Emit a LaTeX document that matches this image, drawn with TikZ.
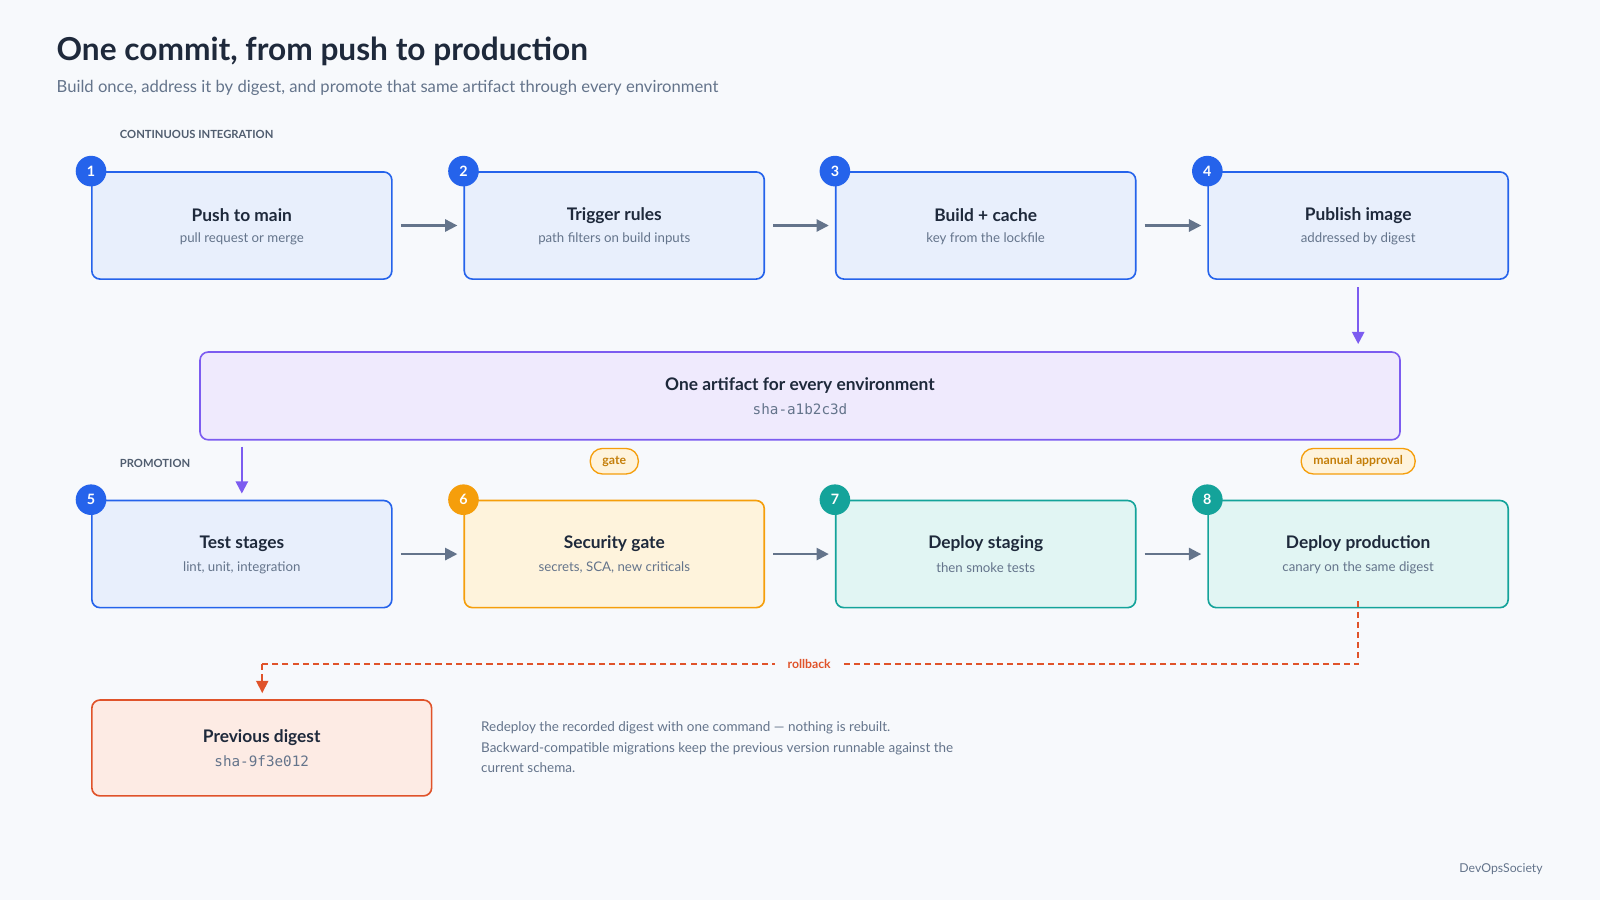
\documentclass[tikz,border=0pt]{standalone}
\usepackage{fontspec}
\setmainfont{Lato}
\newfontfamily\monof{DejaVu Sans Mono}
\usetikzlibrary{arrows.meta}
\definecolor{bg}{HTML}{F7F9FC}
\definecolor{ink}{HTML}{1E293B}
\definecolor{sub}{HTML}{64748B}
\definecolor{bluS}{HTML}{2563EB}\definecolor{bluF}{HTML}{E8EFFC}
\definecolor{purS}{HTML}{7C5CF0}\definecolor{purF}{HTML}{EFEAFD}
\definecolor{oraS}{HTML}{F59E0B}\definecolor{oraF}{HTML}{FEF3DC}
\definecolor{teaS}{HTML}{14A39A}\definecolor{teaF}{HTML}{E1F5F3}
\definecolor{redS}{HTML}{E0532A}\definecolor{redF}{HTML}{FDEBE4}
\definecolor{arr}{HTML}{64748B}
\tikzset{
 box/.style={draw=#1S,fill=#1F,line width=1.6pt,rounded corners=8pt,minimum width=294pt,minimum height=105pt},
 num/.style={circle,fill=#1S,text=white,minimum size=30pt,inner sep=0pt,font=\fontsize{14}{16}\selectfont\bfseries},
 ttl/.style={text=ink,font=\fontsize{17}{20}\selectfont\bfseries},
 sbt/.style={text=sub,font=\fontsize{13}{15}\selectfont},
 mono/.style={text=sub,font=\fontsize{14}{16}\selectfont\monof},
 flow/.style={draw=arr,line width=2pt,-{Triangle[length=12pt,width=12pt]}},
 pflow/.style={draw=purS,line width=2pt,-{Triangle[length=12pt,width=12pt]}},
 pill/.style={draw=oraS,fill=oraF,text=oraS!80!black,line width=1.3pt,rounded corners=12pt,minimum height=25pt,inner xsep=12pt,font=\fontsize{12}{14}\selectfont\bfseries},
 sect/.style={text=sub!80!black,anchor=west,font=\fontsize{11}{13}\selectfont\bfseries},
}
\begin{document}
\begin{tikzpicture}[x=1pt,y=-1pt]
\fill[bg] (0,0) rectangle (1568,882);
\useasboundingbox (0,0) rectangle (1568,882);
\node[anchor=west,text=ink,font=\fontsize{31}{36}\selectfont\bfseries] (title) at (52,50) {One commit, from push to production};
\node[anchor=west,text=sub,font=\fontsize{16.3}{19}\selectfont] (subt) at (52,86) {Build once, address it by digest, and promote that same artifact through every environment};
\node[sect] (ci) at (114,132) {CONTINUOUS INTEGRATION};
\node[sect] (pr) at (114,454) {PROMOTION};
% row 1
\foreach \i/\x/\t/\s in {1/237/Push to main/pull request or merge,2/602/Trigger rules/path filters on build inputs,3/966/Build + cache/key from the lockfile,4/1331/Publish image/addressed by digest}{
 \node[box=blu] (b\i) at (\x,221) {};
 \node[ttl] (b\i t) at (\x,211) {\t};
 \node[sbt] (b\i s) at (\x,234) {\s};
 \node[num=blu] (n\i) at (b\i.north west) {\i};
}
% row 2
\foreach \i/\x/\c/\t/\s in {5/237/blu/Test stages/{lint, unit, integration},6/602/ora/Security gate/{secrets, SCA, new criticals},7/966/tea/Deploy staging/then smoke tests,8/1331/tea/Deploy production/canary on the same digest}{
 \node[box=\c] (b\i) at (\x,543) {};
 \node[ttl] (b\i t) at (\x,533) {\t};
 \node[sbt] (b\i s) at (\x,556) {\s};
 \node[num=\c] (n\i) at (b\i.north west) {\i};
}
\foreach \a/\b in {1/2,2/3,3/4,5/6,6/7,7/8}{\draw[flow] ([xshift=8pt]b\a.east) -- ([xshift=-6pt]b\b.west);}
% artifact
\node[box=pur,minimum width=1176pt,minimum height=86pt] (art) at (784,388) {};
\node[ttl] (artt) at (784,378) {One artifact for every environment};
\node[mono] (arts) at (784,401) {sha-a1b2c3d};
\draw[pflow] ([yshift=-7pt]b4.south) -- ([yshift=7pt]b4.south |- art.north);
\draw[pflow] ([yshift=-6pt]art.south -| b5) -- ([yshift=6pt]b5.north);
\node[pill] (g1) at (602,452) {gate};
\node[pill] (g2) at (1331,452) {manual approval};
% previous digest
\node[box=red,minimum width=333pt,minimum height=94pt] (prev) at (256.5,733) {};
\node[ttl] (prevt) at (256.5,723) {Previous digest};
\node[mono] (prevs) at (256.5,746) {sha-9f3e012};
\coordinate (r1) at (1331,651);
\coordinate (r2) at (257,651);
\draw[redS,line width=1.6pt,dash pattern=on 6pt off 4pt] ([yshift=7pt]b8.south) -- (r1) -- (r2);
\draw[redS,line width=1.6pt,dash pattern=on 6pt off 4pt,-{Triangle[length=12pt,width=12pt]}] (r2) -- ([yshift=6pt]prev.north -| r2);
\node[fill=bg,text=redS,inner xsep=12pt,font=\fontsize{12}{14}\selectfont\bfseries] (rb) at (793,651) {rollback};
\node[anchor=north west,text=sub,align=left,font=\fontsize{13.2}{20}\selectfont] (note) at (468,704) {Redeploy the recorded digest with one command — nothing is rebuilt.\\Backward-compatible migrations keep the previous version runnable against the\\current schema.};
\node[text=sub,font=\fontsize{12}{14}\selectfont] (brand) at (1471,852) {DevOpsSociety};
\end{tikzpicture}
\end{document}
